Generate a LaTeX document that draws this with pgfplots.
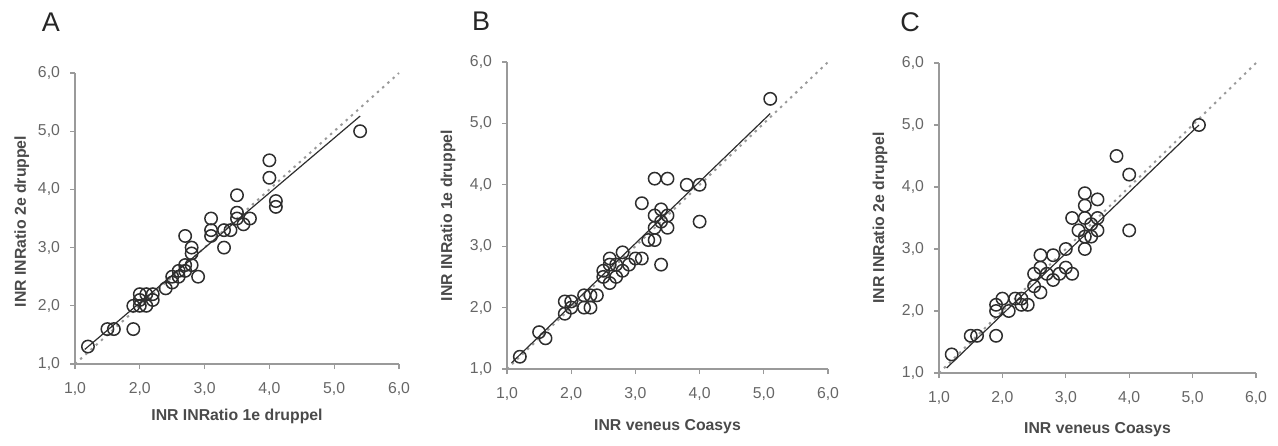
\documentclass[border=0pt]{standalone}
\usepackage{fontspec}
\setmainfont{Liberation Sans}
\usepackage{pgfplots}
\pgfplotsset{compat=1.18}

\definecolor{axgray}{HTML}{9A9A9A}
\definecolor{ticktext}{HTML}{666666}
\definecolor{labtext}{HTML}{4A4A4A}
\definecolor{ptcol}{HTML}{2E2E2E}

\pgfplotsset{
  inrpanel/.style={
    scale only axis, anchor=south west,
    xmin=1, xmax=6, ymin=1, ymax=6,
    xtick={1,...,6}, ytick={1,...,6},
    axis lines=left,
    axis line style={-, axgray, line width=0.6pt},
    tick style={axgray, line width=0.6pt},
    major tick length=2.5pt, tick align=outside,
    clip=false,
    /pgf/number format/.cd, fixed, fixed zerofill, precision=1, use comma,
    assume math mode=true,
    /pgfplots/.cd,
    ticklabel style={font=\fontsize{7.9}{9}\selectfont, text=ticktext},
    xticklabel style={yshift=-3pt},
    yticklabel style={xshift=-1.5pt},
    label style={font=\bfseries\fontsize{7.9}{9.5}\selectfont, text=labtext},
  },
  diag/.style={axgray, line width=1pt, dash pattern=on 1.2pt off 2.3pt},
  regr/.style={ptcol, line width=0.6pt},
  pts/.style={only marks, mark=o, mark size=3.1pt, mark options={ptcol, line width=0.75pt}},
}

\begin{document}
\begin{tikzpicture}
\path[use as bounding box] (0,0) rectangle (639pt,222.5pt);

\node[font=\fontsize{13.5}{15}\selectfont, text=black!85] at (25.5pt,211.5pt) {A};
\node[font=\fontsize{13.5}{15}\selectfont, text=black!85] at (240.5pt,212pt) {B};
\node[font=\fontsize{13.5}{15}\selectfont, text=black!85] at (455pt,211.5pt) {C};

% A
\begin{axis}[inrpanel, at={(37.5pt,40.5pt)}, width=162pt, height=145.5pt,
  xlabel={INR INRatio 1e druppel}, ylabel={INR INRatio 2e druppel},
  xlabel style={at={(axis description cs:0.5,-0.179)}, anchor=center},
  ylabel style={at={(axis description cs:-0.164,0.49)}, anchor=center}]
\addplot[diag] coordinates {(1,1) (6,6)};
\addplot[regr] coordinates {(1.15,1.25) (5.4,5.26)};
\addplot[pts] coordinates {
(1.2,1.3)(1.5,1.6)(1.6,1.6)(1.9,1.6)(1.9,2.0)(2.0,2.0)(2.0,2.1)(2.0,2.2)
(2.1,2.2)(2.1,2.0)(2.2,2.1)(2.2,2.2)(2.4,2.3)(2.5,2.4)(2.5,2.5)(2.6,2.5)
(2.6,2.6)(2.7,2.6)(2.7,2.7)(2.7,3.2)(2.8,3.0)(2.8,2.9)(2.8,2.7)(2.9,2.5)
(3.1,3.5)(3.1,3.3)(3.1,3.2)(3.3,3.3)(3.3,3.0)(3.4,3.3)(3.5,3.9)(3.5,3.6)
(3.5,3.5)(3.6,3.4)(3.7,3.5)(4.0,4.5)(4.0,4.2)(4.1,3.8)(4.1,3.7)(5.4,5.0)};
\end{axis}

% B
\begin{axis}[inrpanel, at={(253.5pt,38pt)}, width=160.5pt, height=153.5pt,
  xlabel={INR veneus Coasys}, ylabel={INR INRatio 1e druppel},
  xlabel style={at={(axis description cs:0.5,-0.189)}, anchor=center},
  ylabel style={at={(axis description cs:-0.184,0.5)}, anchor=center}]
\addplot[diag] coordinates {(1,1) (6,6)};
\addplot[regr] coordinates {(1.07,1.10) (5.1,5.16)};
\addplot[pts] coordinates {
(1.2,1.2)(1.5,1.6)(1.6,1.5)(1.9,2.1)(1.9,1.9)(2.0,2.1)(2.0,2.0)(2.2,2.2)
(2.3,2.2)(2.2,2.0)(2.3,2.0)(2.4,2.2)(2.5,2.6)(2.5,2.5)(2.6,2.8)(2.6,2.7)
(2.6,2.4)(2.7,2.7)(2.7,2.5)(2.8,2.9)(2.8,2.6)(2.9,2.7)(3.0,2.8)(3.1,2.8)
(3.1,3.7)(3.2,3.1)(3.3,3.1)(3.3,3.3)(3.3,3.5)(3.3,4.1)(3.4,3.6)(3.4,3.4)
(3.4,2.7)(3.5,3.5)(3.5,3.3)(3.5,4.1)(3.8,4.0)(4.0,4.0)(4.0,3.4)(5.1,5.4)};
\end{axis}

% C
\begin{axis}[inrpanel, at={(469.5pt,36pt)}, width=158.5pt, height=155pt,
  xlabel={INR veneus Coasys}, ylabel={INR INRatio 2e druppel},
  xlabel style={at={(axis description cs:0.5,-0.184)}, anchor=center},
  ylabel style={at={(axis description cs:-0.186,0.5)}, anchor=center}]
\addplot[diag] coordinates {(1,1) (6,6)};
\addplot[regr] coordinates {(1.12,1.08) (5.1,5.0)};
\addplot[pts] coordinates {
(1.2,1.3)(1.5,1.6)(1.6,1.6)(1.9,1.6)(1.9,2.0)(1.9,2.1)(2.0,2.2)(2.1,2.0)
(2.2,2.2)(2.3,2.1)(2.3,2.2)(2.4,2.1)(2.5,2.4)(2.5,2.6)(2.6,2.3)(2.6,2.7)
(2.6,2.9)(2.7,2.6)(2.8,2.5)(2.8,2.9)(2.9,2.6)(3.0,2.7)(3.0,3.0)(3.1,2.6)
(3.1,3.5)(3.2,3.3)(3.3,3.0)(3.3,3.2)(3.3,3.5)(3.3,3.7)(3.3,3.9)(3.4,3.2)
(3.4,3.4)(3.5,3.3)(3.5,3.5)(3.5,3.8)(3.8,4.5)(4.0,4.2)(4.0,3.3)(5.1,5.0)};
\end{axis}
\end{tikzpicture}
\end{document}
